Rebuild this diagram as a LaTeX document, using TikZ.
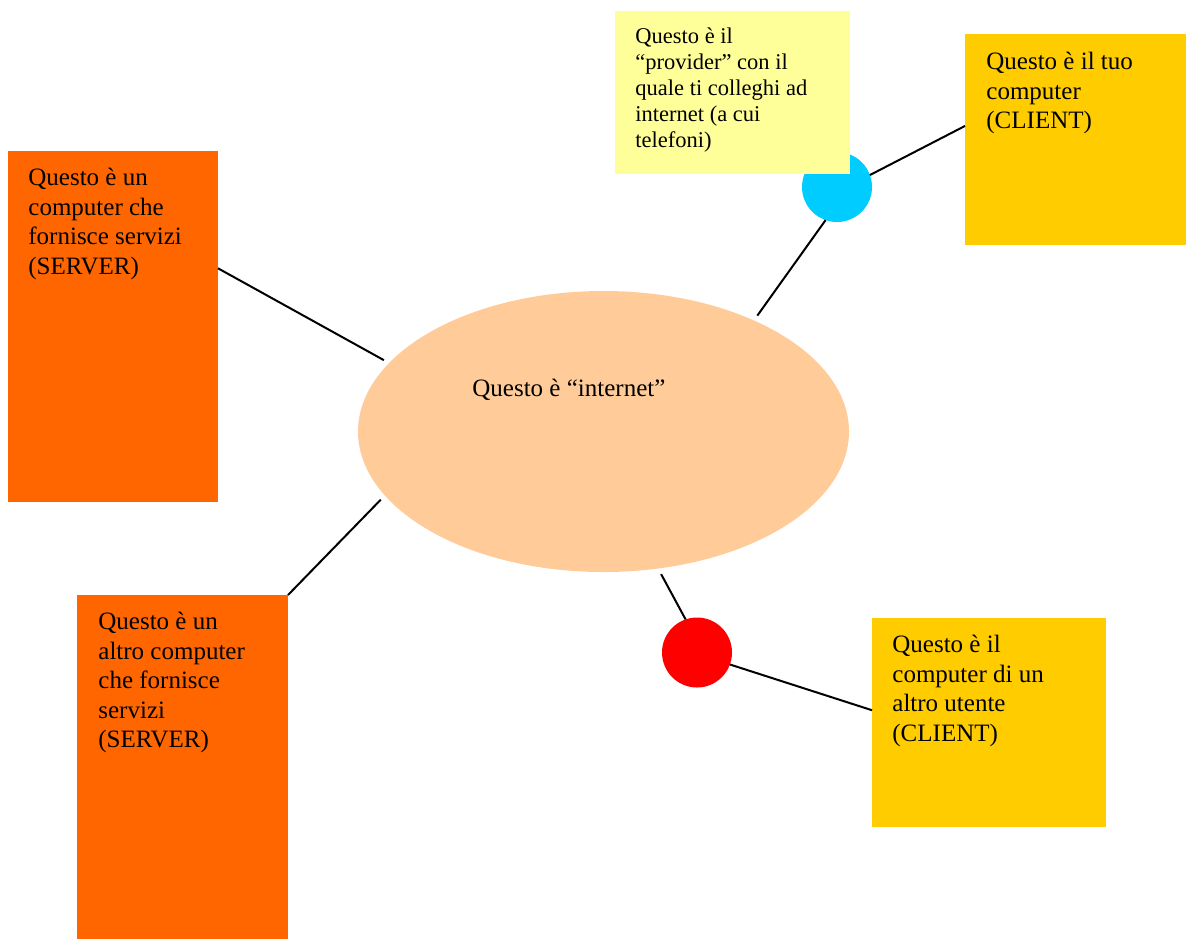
\documentclass[tikz,border=0pt]{standalone}
\usepackage{fontspec}
\setmainfont{Liberation Serif}
\usetikzlibrary{shapes.geometric}

\definecolor{srvorange}{HTML}{FF6600}
\definecolor{cligold}{HTML}{FFCC00}
\definecolor{provyellow}{HTML}{FFFF99}
\definecolor{netpeach}{HTML}{FFCC99}
\definecolor{ispcyan}{HTML}{00CCFF}
\definecolor{usrred}{HTML}{FF0000}

\begin{document}
\begin{tikzpicture}[x=0.5pt, y=-0.5pt]

\tikzstyle{box}=[rectangle, inner sep=0pt, outer sep=0pt]
\tikzstyle{dot}=[circle, inner sep=0pt, outer sep=0pt, minimum size=35pt]
\tikzstyle{txt}=[anchor=north west, inner sep=0pt, align=left, font=\fontsize{12.5}{14.75}\selectfont]
\tikzstyle{smalltxt}=[anchor=north west, inner sep=0pt, align=left, font=\fontsize{11.25}{13}\selectfont]
\tikzstyle{link}=[line width=1pt]

\useasboundingbox (0,0) rectangle (1186,939);

\node (net) [ellipse, fill=netpeach, inner sep=0pt, outer sep=3pt,
             minimum width=245.5pt, minimum height=140.5pt] at (603.5,431.5) {};
\node (nettxt) [txt, anchor=base west] at (472,396) {Questo è “internet”};

\node (srvA) [box, fill=srvorange, minimum width=105pt, minimum height=175.5pt] at (113,326.5) {};
\node (srvB) [box, fill=srvorange, minimum width=105.5pt, minimum height=172pt] at (182.5,767) {};
\node (cliA) [box, fill=cligold, minimum width=110.5pt, minimum height=105.5pt] at (1075.5,139.5) {};
\node (cliB) [box, fill=cligold, minimum width=117pt, minimum height=104.5pt] at (989,722.5) {};

\node (isp) [dot, fill=ispcyan] at (837,187) {};
\node (usr) [dot, fill=usrred] at (697,652.5) {};
\node (prov) [box, fill=provyellow, minimum width=117.5pt, minimum height=81.5pt] at (732.5,92.5) {};

\node (srvAtxt) [txt] at ([shift={(10pt,-8.4pt)}]srvA.north west)
      {Questo è un\\computer che\\fornisce servizi\\(SERVER)};
\node (srvBtxt) [txt] at ([shift={(10.5pt,-8.4pt)}]srvB.north west)
      {Questo è un\\altro computer\\che fornisce\\servizi\\(SERVER)};
\node (cliAtxt) [txt] at ([shift={(10.5pt,-8.9pt)}]cliA.north west)
      {Questo è il tuo\\computer\\(CLIENT)};
\node (cliBtxt) [txt] at ([shift={(10pt,-8.4pt)}]cliB.north west)
      {Questo è il\\computer di un\\altro utente\\(CLIENT)};
\node (provtxt) [smalltxt] at ([shift={(10pt,-8.2pt)}]prov.north west)
      {Questo è il\\“provider” con il\\quale ti colleghi ad\\internet (a cui\\telefoni)};

\draw [link] (srvA.29.5) -- (net.162.3);
\draw [link] (srvB.north east) -- (net.197.4);
\draw [link] (net.37.8) -- (isp.251.6);
\draw [link] (isp.20.4) -- (cliA.173.5);
\draw [link] (net.292.6) -- (usr.109.7);
\draw [link] (usr.340.3) -- (cliB.174.9);

\end{tikzpicture}
\end{document}
